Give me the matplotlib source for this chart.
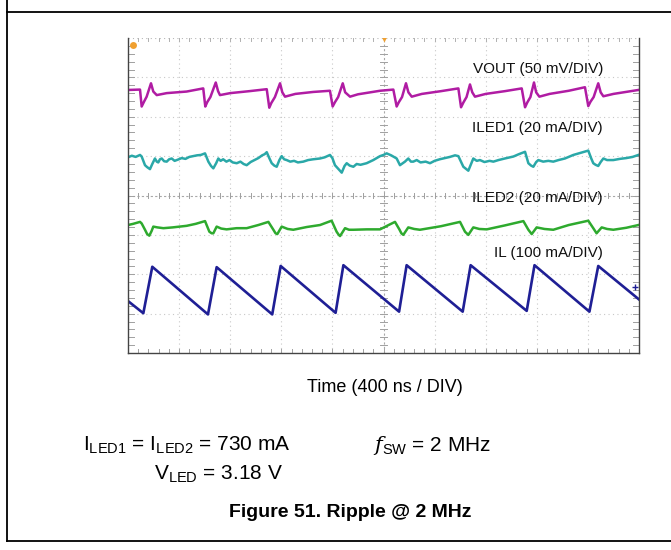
import matplotlib
matplotlib.use("Agg")
import matplotlib.pyplot as plt
from matplotlib.lines import Line2D

plt.rcParams["font.family"] = ["Liberation Sans", "DejaVu Sans"]
plt.rcParams["mathtext.fontset"] = "custom"
plt.rcParams["mathtext.rm"] = "Liberation Sans"
plt.rcParams["mathtext.it"] = "DejaVu Serif:italic"

# scope traces, time in ns (400 ns / div), level in screen divisions (0..8)
vout_t = [0, 94, 107, 125, 146, 180, 198, 225, 303, 459, 589,
          605, 620, 645, 687, 705, 720, 800, 950, 1086,
          1106, 1122, 1150, 1190, 1208, 1229, 1310, 1450, 1581,
          1602, 1620, 1645, 1681, 1700, 1738, 1800, 1973, 2077,
          2103, 2120, 2145, 2176, 2195, 2221, 2300, 2450, 2586,
          2607, 2625, 2650, 2677, 2695, 2716, 2800, 2950, 3082,
          3108, 3125, 3150, 3178, 3195, 3220, 3300, 3450, 3577,
          3603, 3620, 3645, 3681, 3700, 3721, 3800, 3995]
vout_v = [6.68, 6.69, 6.26, 6.38, 6.51, 6.85, 6.64, 6.55, 6.60, 6.64, 6.72,
          6.26, 6.37, 6.50, 6.87, 6.65, 6.55, 6.60, 6.65, 6.70,
          6.23, 6.35, 6.50, 6.85, 6.62, 6.51, 6.58, 6.63, 6.66,
          6.26, 6.37, 6.50, 6.85, 6.62, 6.51, 6.57, 6.66, 6.69,
          6.26, 6.37, 6.50, 6.85, 6.62, 6.51, 6.58, 6.65, 6.72,
          6.24, 6.36, 6.50, 6.82, 6.62, 6.51, 6.58, 6.65, 6.72,
          6.24, 6.36, 6.50, 6.87, 6.62, 6.51, 6.58, 6.66, 6.75,
          6.27, 6.38, 6.50, 6.85, 6.62, 6.52, 6.58, 6.68]

iled1_t = [0, 30, 60, 94, 107, 133, 150, 172, 190, 211, 225, 237, 250, 264,
           283, 303, 322, 342, 365, 390, 420, 450, 480, 510, 540, 570, 603,
           629, 650, 668, 690, 707, 725, 745, 770, 795, 820, 851, 880, 905,
           929, 960, 990, 1020, 1050, 1070, 1086,
           1106, 1125, 1145, 1164, 1185, 1203, 1222, 1242, 1270, 1300, 1330,
           1372, 1410, 1450, 1503, 1540, 1581,
           1600, 1620, 1645, 1673, 1695, 1712, 1735, 1764, 1790, 1820, 1868,
           1920, 1973, 2000, 2025, 2060, 2103,
           2129, 2150, 2168, 2194, 2215, 2233, 2260, 2290, 2330, 2364, 2400,
           2440, 2480, 2520, 2560, 2586,
           2625, 2645, 2664, 2685, 2703, 2730, 2755, 2790, 2830, 2860, 2900,
           2950, 3017, 3060, 3108,
           3134, 3155, 3173, 3195, 3212, 3250, 3290, 3329, 3370, 3420, 3486,
           3540, 3603,
           3625, 3642, 3660, 3681, 3700, 3721, 3750, 3799, 3850, 3900, 3950,
           3995]
iled1_v = [4.97, 5.01, 4.98, 5.03, 4.99, 4.77, 4.72, 4.67, 4.80, 4.94, 4.86,
           4.84, 4.92, 4.94, 4.87, 4.86, 4.92, 4.94, 4.88, 4.91, 4.95, 4.93,
           4.98, 5.00, 5.02, 5.03, 5.07,
           4.86, 4.75, 4.69, 4.82, 4.94, 4.88, 4.92, 4.86, 4.90, 4.84, 4.82,
           4.86, 4.80, 4.77, 4.85, 4.90, 4.95, 5.02, 5.05, 5.10,
           4.95, 4.82, 4.76, 4.73, 4.90, 5.00, 4.92, 4.90, 4.86, 4.88, 4.84,
           4.86, 4.90, 4.92, 4.94, 4.97, 5.03,
           4.95, 4.77, 4.68, 4.58, 4.75, 4.82, 4.76, 4.73, 4.80, 4.78, 4.82,
           4.90, 5.00, 5.03, 5.07, 5.02, 4.94,
           4.77, 4.82, 4.86, 4.94, 4.86, 4.86, 4.90, 4.84, 4.86, 4.82, 4.88,
           4.92, 4.95, 4.98, 5.02, 5.00,
           4.73, 4.68, 4.63, 4.80, 4.94, 4.88, 4.90, 4.85, 4.88, 4.86, 4.90,
           4.94, 4.99, 5.05, 5.11,
           4.82, 4.76, 4.73, 4.85, 4.90, 4.86, 4.88, 4.86, 4.90, 4.94, 5.03,
           5.08, 5.14,
           4.95, 4.82, 4.78, 4.75, 4.85, 4.94, 4.90, 4.90, 4.93, 4.95, 4.98,
           5.03]

iled2_t = [0, 40, 94, 107, 133, 150, 167, 185, 198, 230, 277, 350, 459, 530,
           603, 637, 655, 668, 694, 730, 772, 850, 929, 1020, 1099,
           1138, 1155, 1169, 1203, 1250, 1294, 1400, 1503, 1594,
           1633, 1650, 1660, 1699, 1730, 1764, 1870, 1973, 2040, 2090,
           2124, 2140, 2155, 2194, 2240, 2285, 2450, 2599,
           2638, 2664, 2703, 2750, 2808, 2950, 3095,
           3134, 3160, 3199, 3260, 3329, 3450, 3603,
           3642, 3668, 3708, 3750, 3799, 3900, 3995]
iled2_v = [3.25, 3.28, 3.33, 3.29, 3.13, 3.02, 2.98, 3.10, 3.21, 3.19, 3.17,
           3.19, 3.23, 3.28, 3.35, 3.08, 3.04, 3.04, 3.21, 3.16, 3.14, 3.17,
           3.17, 3.25, 3.33,
           3.13, 3.04, 3.02, 3.21, 3.15, 3.13, 3.20, 3.25, 3.36,
           3.08, 3.00, 2.97, 3.17, 3.13, 3.13, 3.14, 3.14, 3.25, 3.33,
           3.14, 3.04, 3.00, 3.19, 3.15, 3.13, 3.22, 3.33,
           3.08, 3.00, 3.19, 3.15, 3.14, 3.24, 3.35,
           3.13, 3.02, 3.19, 3.15, 3.13, 3.25, 3.36,
           3.17, 3.04, 3.19, 3.15, 3.13, 3.18, 3.25]

il_t = [0, 120, 190, 626, 694, 1129, 1195, 1625, 1686, 2122, 2181,
        2620, 2682, 3121, 3182, 3612, 3681, 4000]
il_v = [1.32, 1.01, 2.19, 0.98, 2.18, 0.98, 2.21, 1.02, 2.23, 1.05, 2.23,
        1.05, 2.23, 1.07, 2.23, 1.05, 2.21, 1.36]

trace_labels = ["VOUT (50 mV/DIV)", "ILED1 (20 mA/DIV)",
                "ILED2 (20 mA/DIV)", "IL (100 mA/DIV)"]
label_levels = [7.10, 5.62, 3.84, 2.45]
label_t = 3718

fig = plt.figure(figsize=(6.71, 5.5), dpi=100)

# document cell borders
fig.add_artist(Line2D([7 / 671, 1], [1 - 12 / 550, 1 - 12 / 550], color="black", lw=1.3))
fig.add_artist(Line2D([7 / 671, 7 / 671], [1 - 541 / 550, 1], color="black", lw=1.3))
fig.add_artist(Line2D([7 / 671, 1], [1 - 541 / 550, 1 - 541 / 550], color="black", lw=1.3))

ax = fig.add_axes([128 / 671, 1 - 353 / 550, 511 / 671, 315 / 550])
ax.set_xlim(0, 4000)
ax.set_ylim(0, 8)

# graticule
for gx in range(400, 4000, 400):
    if gx != 2000:
        ax.axvline(gx, color="#c8c8c8", lw=0.8, ls=(0, (1, 3)), zorder=0)
for gy in range(1, 8):
    if gy != 4:
        ax.axhline(gy, color="#c8c8c8", lw=0.8, ls=(0, (1, 3)), zorder=0)
ax.axhline(8, color="#b8b8b8", lw=0.8, ls=(0, (1, 3)), zorder=0)
ax.axvline(2000, color="#a8a8a8", lw=0.8, ls=(0, (2, 2)), zorder=0)
ax.axhline(4, color="#a8a8a8", lw=0.8, ls=(0, (2, 2)), zorder=0)
for k in range(1, 50):
    ax.plot([k * 80, k * 80], [3.93, 4.07], color="#a0a0a0", lw=0.7, zorder=0)
    ax.plot([k * 80, k * 80], [0, 0.1], color="#a0a0a0", lw=0.7, zorder=0)
    ax.plot([k * 80, k * 80], [7.92, 8], color="#b0b0b0", lw=0.7, zorder=0)
for k in range(1, 40):
    ax.plot([1970, 2030], [k * 0.2, k * 0.2], color="#a0a0a0", lw=0.7, zorder=0)
    ax.plot([0, 45], [k * 0.2, k * 0.2], color="#a0a0a0", lw=0.7, zorder=0)
    ax.plot([3955, 4000], [k * 0.2, k * 0.2], color="#a0a0a0", lw=0.7, zorder=0)

ax.set_xticks([])
ax.set_yticks([])
ax.spines["top"].set_visible(False)
for s in ["left", "right", "bottom"]:
    ax.spines[s].set_color("#444444")
    ax.spines[s].set_linewidth(1.0)

ax.plot(vout_t, vout_v, color="#b01ca3", lw=1.8)
ax.plot(iled1_t, iled1_v, color="#2aa8a8", lw=1.8)
ax.plot(iled2_t, iled2_v, color="#2eaa2e", lw=1.8)
ax.plot(il_t, il_v, color="#1f1f95", lw=1.9)

for lab, lvl in zip(trace_labels, label_levels):
    ax.text(label_t, lvl, lab, ha="right", va="baseline", fontsize=11, color="#111111")

# channel / trigger markers
ax.plot([40], [7.82], marker="o", ms=5, color="#f0a030", mec="none")
ax.plot([2000], [7.97], marker="v", ms=4, color="#f0a030", mec="none")
ax.plot([3970], [1.68], marker="+", ms=4, color="#1f1f95")

fig.text(385 / 671, 1 - 392 / 550, "Time (400 ns / DIV)", ha="center",
         va="baseline", fontsize=13)
fig.text(83 / 671, 1 - 451 / 550, r"I$_{\rm LED1}$ = I$_{\rm LED2}$ = 730 mA",
         ha="left", va="baseline", fontsize=15)
fig.text(283 / 671, 1 - 480 / 550, r"V$_{\rm LED}$ = 3.18 V",
         ha="right", va="baseline", fontsize=15)
fig.text(373 / 671, 1 - 451 / 550, r"$f_{\rm SW}$ = 2 MHz",
         ha="left", va="baseline", fontsize=15)
fig.text(350 / 671, 1 - 517 / 550, "Figure 51. Ripple @ 2 MHz", ha="center",
         va="baseline", fontsize=14, fontweight="bold")

fig.savefig("out.png", dpi=100)
